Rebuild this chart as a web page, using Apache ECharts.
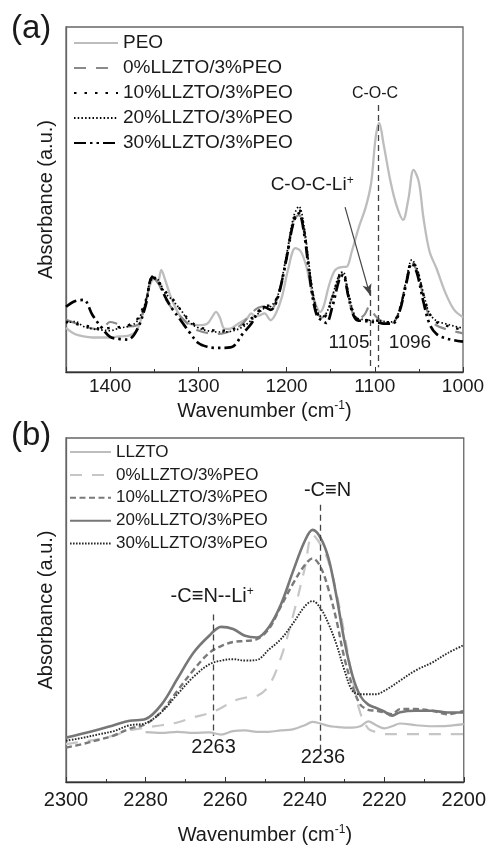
<!DOCTYPE html>
<html><head><meta charset="utf-8">
<script src="https://cdn.jsdelivr.net/npm/echarts@6/dist/echarts.min.js"></script>
<style>html,body{margin:0;padding:0;background:#fff}#c{width:489px;height:846px}</style>
</head><body><div id="c"></div>
<script>
// ---------- Panel (a) data ----------
const aPeoX = [1450,1440,1430,1420,1400,1390,1380,1370,1362,1355,1350,1346,1342,1338,1330,1320,1310,1300,1290,1283,1280,1276,1270,1265,1255,1245,1240,1235,1230,1225,1218,1212,1205,1198,1190,1184,1178,1172,1166,1162,1158,1152,1145,1138,1132,1126,1118,1110,1104,1099,1095,1090,1082,1075,1068,1062,1056,1050,1045,1038,1030,1020,1010,1000];
const aPeoY = [12.8,11,10.3,10,10,10.3,10.5,12,18,25,27,26,29.6,27,21,16,14,13.6,14,16.5,17.4,16,12.5,12.5,14,15.5,17,16,16.5,17,15,17,22,30,35.9,35,31,24,19,17.4,19,25,29.5,30.4,30.5,35,42,48,55,68,72.2,66,55,48,44.1,50,58.6,55,45,35,30,23,18,15.9];
const aX = [1450,1440,1430,1420,1410,1400,1390,1380,1370,1360,1352,1345,1338,1330,1320,1310,1300,1290,1280,1270,1260,1250,1240,1232,1225,1218,1210,1200,1192,1186,1180,1175,1170,1165,1160,1155,1148,1140,1136,1130,1125,1120,1112,1106,1100,1094,1088,1080,1072,1064,1058,1052,1045,1038,1030,1020,1010,1000];
const a0Y = [15.1,14.2,13.2,12.6,12.3,14.5,13.8,13.2,13.5,19.5,27.6,25.5,21.5,18.5,16,13.5,12,11.3,11,11.3,12.3,14,17,18.6,19,18.2,21.8,33.5,44,45.5,40.5,31,22,17.2,15.8,17,22,27.5,28.5,22,17,15.2,16.5,19,16.5,15,14.5,14.2,18,26.5,31.8,29,22,16,13.5,12.5,11.8,11.2];
const a10Y = [14.6,14,13.5,13,12.5,12.8,13,13.5,15,20.5,27,26,23.5,21.5,18,15,13,12.5,12,12,12.5,13.5,15.5,17.5,19,19.5,22,33,44,47,41,31,22,17,15.5,16.5,21.5,28,28.5,22.5,17.5,15.5,15.2,15,15,14.6,14.4,14.5,18,26.5,32,29.5,22.5,17,14.5,13.5,12.8,12.2];
const a20Y = [14.2,14.6,13.2,12.5,12.2,12,12.7,13.2,14.5,20,27.8,26.5,23,21,18,14.5,12.8,12,11.6,11.6,12,13,15,17,18.5,19,22,34,45,48,42,32,23,17.5,16,17,22,28.5,29,23,18,15.6,15.2,15,15,14.8,14.6,14.5,18,27,32.5,30,23,17,14.8,14,13.3,12.7];
const a30Y = [18.9,20.5,20.9,16.5,13,10.2,9.6,9.4,12,19,27.5,26,22,18.5,15,11.5,8.4,7.3,7,7,7.5,11,14,17.5,18.8,18,21.5,33,43.5,46,40,30,21,16,15,14.2,19,27,28,22,17,15,14.8,14.6,14.4,14.2,14,14,17.5,26,31.5,28.5,20.5,14,11,9.8,9.2,8.8];
const aNames = ['PEO','0%LLZTO/3%PEO','10%LLZTO/3%PEO','20%LLZTO/3%PEO','30%LLZTO/3%PEO'];
const aTicks = [1000,1450];

// ---------- Panel (b) data ----------
const bX = [2300,2296,2292,2288,2284,2280,2276,2272,2268,2264,2261,2258,2255,2252,2249,2246,2243,2240,2238,2236,2234,2232,2230,2228,2226,2224,2222,2220,2218,2216,2212,2208,2204,2200];
const bLlztoY = [null,null,null,null,null,14.5,14.3,14.6,14.3,14.4,13.8,14.8,15,14.6,14.6,15,15.3,16.5,17.5,17,16.3,16,15.8,15.8,16.2,17.6,16.5,15.6,16.2,17,16.5,16.2,16.3,16.8];
const b0Y = [11,11.7,12.4,13.5,15,15.8,16.5,17.3,18.8,20,21.5,23.5,24.5,25,28,36,48,62,71.9,69,64,55,43,30,20,15.5,14.5,13.9,13.9,13.9,13.9,13.9,13.9,13.9];
const b10Y = [10,11,12.2,13.5,15.5,16.8,20.5,26.5,32.5,37.5,39.5,40.7,41,41.5,44.5,51,57.5,63,65,62.5,56,47,36,28,22.5,21,20.7,20.2,19.7,21.2,21.2,20.7,19.7,20.7];
const b20Y = [12.9,14,15.2,16.5,17.8,18.3,22.5,30,37.5,42.5,45.1,44.5,42.5,42,45,51.5,61,70,73.3,71,65,54,41,31,25,22.5,21.5,20.5,19.3,20.3,20.7,20.7,20.2,20.2];
const b30Y = [12,12.8,13.8,14.8,16.5,17.1,20.3,25.5,30.5,34.2,35.3,35.7,35.3,35.5,38.5,41.5,46,51,52.6,50.5,46,40,32.5,26.5,25.5,25.5,25.5,26.5,27.9,29.5,32.5,34.7,37.5,39.8];
const bNames = ['LLZTO','0%LLZTO/3%PEO','10%LLZTO/3%PEO','20%LLZTO/3%PEO','30%LLZTO/3%PEO'];
const bTicks = [2200,2300];

const FONT = "'Liberation Sans', Arial, sans-serif";
const pairs = (xs, ys) => xs.map((x, i) => [x, ys[i]]);
const bKey = n => 'b:' + n;

const chart = echarts.init(document.getElementById('c'), null, {renderer: 'canvas'});

function lineSeries(name, xi, yi, data, color, width, type, extra) {
  return Object.assign({
    name, type: 'line', xAxisIndex: xi, yAxisIndex: yi, data,
    symbol: 'none', showSymbol: false, smooth: 0.35, animation: false,
    lineStyle: {color, width, type, cap: 'butt'}, itemStyle: {color}
  }, extra || {});
}

const supRich = {sup: {fontSize: 12, padding: [0, 0, 9, 0], fontFamily: FONT, color: '#1a1a1a'}};
function textPoint(coord, text, size) {
  return {coord, value: 0, symbol: 'rect', symbolSize: 1, itemStyle: {color: 'rgba(0,0,0,0)'},
    label: {show: true, position: 'inside', formatter: text, fontSize: size, color: '#1a1a1a', fontFamily: FONT, rich: supRich}};
}
const dashStyle = {color: '#444', type: [6, 4], width: 1.3};

const series = [
  lineSeries(aNames[0], 0, 0, pairs(aPeoX, aPeoY), '#bdbdbd', 2.3, 'solid'),
  lineSeries(aNames[1], 0, 0, pairs(aX, a0Y), '#8a8a8a', 2.2, [12, 10]),
  lineSeries(aNames[2], 0, 0, pairs(aX, a10Y), '#000', 2.4, [2.5, 8]),
  lineSeries(aNames[3], 0, 0, pairs(aX, a20Y), '#000', 1.7, [1.5, 2.2]),
  lineSeries(aNames[4], 0, 0, pairs(aX, a30Y), '#000', 2.7, [12, 4, 2.5, 4, 2.5, 4], {
    markLine: {silent: true, animation: false, symbol: ['none', 'none'], label: {show: false}, lineStyle: dashStyle,
      data: [
        [{coord: [1096, 77.4]}, {coord: [1096, 1.4]}],
        [{coord: [1105, 23.8]}, {coord: [1105, 1.4]}],
        [{coord: [1133.7, 47.8], lineStyle: {type: 'solid', color: '#444', width: 1.2}, symbol: 'none'},
         {coord: [1105.4, 22.3], symbol: 'arrow', symbolSize: [7, 11]}]
      ]},
    markPoint: {silent: true, animation: false, data: [
      textPoint([1099.7, 80.6], 'C-O-C', 16),
      textPoint([1171, 54.2], 'C-O-C-Li{sup|+}', 19),
      textPoint([1129.2, 8.4], '1105', 19),
      textPoint([1060.1, 8.4], '1096', 19)
    ]}
  }),
  lineSeries(bKey(bNames[0]), 2, 1, pairs(bX, bLlztoY), '#bdbdbd', 2.2, 'solid'),
  lineSeries(bKey(bNames[1]), 2, 1, pairs(bX, b0Y), '#c6c6c6', 2.2, [12, 10]),
  lineSeries(bKey(bNames[2]), 2, 1, pairs(bX, b10Y), '#7a7a7a', 2.4, [6, 3.5]),
  lineSeries(bKey(bNames[3]), 2, 1, pairs(bX, b20Y), '#777', 2.6, 'solid'),
  lineSeries(bKey(bNames[4]), 2, 1, pairs(bX, b30Y), '#2a2a2a', 1.9, [1.6, 1.4], {
    markLine: {silent: true, animation: false, symbol: ['none', 'none'], label: {show: false}, lineStyle: dashStyle,
      data: [
        [{coord: [2236, 80.6]}, {coord: [2236, 9.3]}],
        [{coord: [2263, 48.7]}, {coord: [2263, 13.4]}]
      ]},
    markPoint: {silent: true, animation: false, data: [
      textPoint([2234.25, 84.6], '-C≡N', 20),
      textPoint([2263.25, 53.9], '-C≡N--Li{sup|+}', 20),
      textPoint([2262.9, 10.1], '2263', 20),
      textPoint([2235.4, 7.2], '2236', 20)
    ]}
  })
];

const axisNameRich = {sup: {fontSize: 12, padding: [0, 0, 10, 0], fontFamily: FONT, color: '#1a1a1a'}};

const option = {
  animation: false,
  backgroundColor: '#fff',
  textStyle: {fontFamily: FONT},
  grid: [
    {left: 66, top: 27, width: 397, height: 345, show: true, borderColor: '#666', borderWidth: 1.3, backgroundColor: 'transparent'},
    {left: 66, top: 438, width: 399, height: 345, show: true, borderColor: '#666', borderWidth: 1.3, backgroundColor: 'transparent'}
  ],
  xAxis: [
    {gridIndex: 0, type: 'value', position: 'bottom', inverse: true, min: aTicks[0], max: aTicks[1], interval: 100,
      name: 'Wavenumber (cm{sup|-1})', nameLocation: 'middle', nameGap: 28,
      nameTextStyle: {fontSize: 20, color: '#1a1a1a', fontFamily: FONT, rich: axisNameRich},
      axisLine: {show: true, lineStyle: {color: '#333', width: 1.3}},
      axisTick: {show: true, inside: true, length: 5, lineStyle: {color: '#333'}},
      axisLabel: {fontSize: 19, color: '#1a1a1a', margin: 5, fontFamily: FONT, formatter: v => (v % 100 === 0 ? String(v) : '')},
      splitLine: {show: false}},
    {gridIndex: 0, type: 'value', position: 'bottom', inverse: true, min: aTicks[0], max: aTicks[1], interval: 50,
      axisLine: {show: false}, axisLabel: {show: false}, splitLine: {show: false},
      axisTick: {show: true, inside: true, length: 3, lineStyle: {color: '#333'}}},
    {gridIndex: 1, type: 'value', position: 'bottom', inverse: true, min: bTicks[0], max: bTicks[1], interval: 20,
      name: 'Wavenumber (cm{sup|-1})', nameLocation: 'middle', nameGap: 42,
      nameTextStyle: {fontSize: 20, color: '#1a1a1a', fontFamily: FONT, rich: axisNameRich},
      axisLine: {show: true, lineStyle: {color: '#333', width: 1.3}},
      axisTick: {show: true, inside: true, length: 5, lineStyle: {color: '#333'}},
      minorTick: {show: true, splitNumber: 2, length: 3, lineStyle: {color: '#333'}},
      axisLabel: {fontSize: 20, color: '#1a1a1a', margin: 8, fontFamily: FONT, formatter: v => String(v)},
      splitLine: {show: false}}
  ],
  yAxis: [
    {gridIndex: 0, type: 'value', min: 0, max: 100, name: 'Absorbance (a.u.)', nameLocation: 'middle', nameGap: 10,
      nameTextStyle: {fontSize: 20, color: '#1a1a1a', fontFamily: FONT},
      axisLine: {show: true, lineStyle: {color: '#666', width: 1.3}}, axisTick: {show: false}, axisLabel: {show: false}, splitLine: {show: false}},
    {gridIndex: 1, type: 'value', min: 0, max: 100, name: 'Absorbance (a.u.)', nameLocation: 'middle', nameGap: 10,
      nameTextStyle: {fontSize: 20, color: '#1a1a1a', fontFamily: FONT},
      axisLine: {show: true, lineStyle: {color: '#666', width: 1.3}}, axisTick: {show: false}, axisLabel: {show: false}, splitLine: {show: false}}
  ],
  legend: [
    {orient: 'vertical', left: 73, top: 33, padding: 0, itemWidth: 44, itemHeight: 14, itemGap: 5,
      selectedMode: false, data: aNames, itemStyle: {opacity: 0, borderWidth: 0},
      textStyle: {fontSize: 19, lineHeight: 20, color: '#1a1a1a', fontFamily: FONT}},
    {orient: 'vertical', left: 69, top: 443, padding: 0, itemWidth: 41, itemHeight: 12, itemGap: 4.9,
      selectedMode: false, data: bNames.map(bKey), formatter: n => n.replace(/^b:/, ''), itemStyle: {opacity: 0, borderWidth: 0},
      textStyle: {fontSize: 17, lineHeight: 18, color: '#1a1a1a', fontFamily: FONT}}
  ],
  graphic: [
    {type: 'text', left: 11, top: 12, style: {text: '(a)', fontSize: 33, fill: '#1a1a1a', fontFamily: FONT}},
    {type: 'text', left: 11, top: 419, style: {text: '(b)', fontSize: 33, fill: '#1a1a1a', fontFamily: FONT}}
  ],
  series
};
chart.setOption(option);
</script></body></html>
